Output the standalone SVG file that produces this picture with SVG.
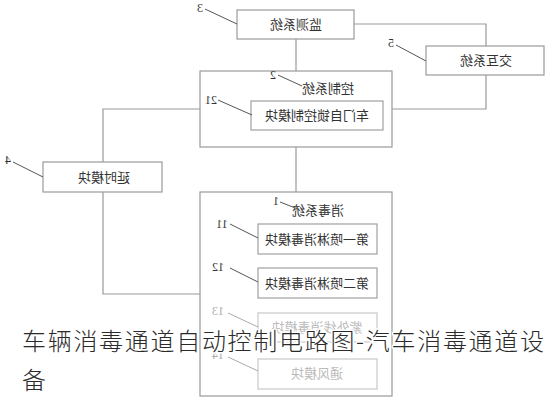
<svg xmlns="http://www.w3.org/2000/svg" width="548" height="400" viewBox="0 0 548 400">
<style>
.box{fill:#fff;stroke:#9a9a9a;stroke-width:1.2}
.inner{fill:#fff;stroke:#a0a0a0;stroke-width:1.2}
.faded{fill:#fff;stroke:#c8c8c8;stroke-width:1.2}
.conn{fill:none;stroke:#999;stroke-width:1.2}
.lead{fill:none;stroke:#555;stroke-width:1}
.leadf{fill:none;stroke:#aaa;stroke-width:1}
.t{font-family:"Noto Sans CJK SC","Liberation Serif",serif;font-size:13px;fill:#333;text-anchor:middle}
.tf{font-family:"Noto Sans CJK SC","Liberation Serif",serif;font-size:13px;fill:#bbb;text-anchor:middle}
.n{font-family:"Liberation Serif",serif;font-size:12px;fill:#333;text-anchor:middle}
.nf{font-family:"Liberation Serif",serif;font-size:12px;fill:#aaa;text-anchor:middle}
.cap{font-family:"Noto Sans CJK SC","Noto Sans",sans-serif;font-size:24px;font-weight:300;fill:#2a2a2a;stroke:#fff;stroke-width:3;paint-order:stroke;stroke-linejoin:round}
</style>
<rect width="548" height="400" fill="#fff"/>
<g id="connectors">
<path class="conn" d="M296,39 V71"/>
<path class="conn" d="M354,24 H486 V46"/>
<path class="conn" d="M486,75 V109 H392"/>
<path class="conn" d="M200,109 H103 V162"/>
<path class="conn" d="M103,192 V294 H200"/>
<path class="conn" d="M296,147 V192"/>
<path class="conn" d="M318,254 V268"/>
<path class="conn" d="M318,298 V313"/>
<path class="conn" d="M318,342 V359"/>
</g>
<g id="n3">
<rect class="box" x="237" y="10" width="117" height="29"/>
<text class="t" transform="scale(-1,1)" x="-296" y="29">监测系统</text>
<path class="lead" d="M205,9 L237,24"/>
<text class="n" transform="scale(-1,1)" x="-200" y="12">3</text>
</g>
<g id="n5">
<rect class="box" x="426" y="46" width="118" height="29"/>
<text class="t" transform="scale(-1,1)" x="-486" y="65">交互系统</text>
<path class="lead" d="M396,45 L426,61"/>
<text class="n" transform="scale(-1,1)" x="-391" y="47">5</text>
</g>
<g id="n2">
<rect class="box" x="200" y="71" width="192" height="76"/>
<text class="t" transform="scale(-1,1)" x="-328" y="93">控制系统</text>
<path class="lead" d="M278,75 L302,86"/>
<text class="n" transform="scale(-1,1)" x="-273" y="79">2</text>
</g>
<g id="n21">
<rect class="inner" x="251" y="101" width="132" height="29"/>
<text class="t" transform="scale(-1,1)" x="-317" y="120">车门自锁控制模块</text>
<path class="lead" d="M218,100 L252,115"/>
<text class="n" transform="scale(-1,1)" x="-211" y="104">21</text>
</g>
<g id="n4">
<rect class="box" x="43" y="162" width="119" height="30"/>
<text class="t" transform="scale(-1,1)" x="-104" y="182">延时模块</text>
<path class="lead" d="M13,162 L43,177"/>
<text class="n" transform="scale(-1,1)" x="-8" y="164">4</text>
</g>
<g id="n1">
<rect class="box" x="200" y="192" width="192" height="204"/>
<text class="t" transform="scale(-1,1)" x="-318" y="215">消毒系统</text>
<path class="lead" d="M280,202 L298,209"/>
<text class="n" transform="scale(-1,1)" x="-276" y="205">1</text>
</g>
<g id="n11">
<rect class="inner" x="258" y="224" width="119" height="30"/>
<text class="t" transform="scale(-1,1)" x="-317" y="244">第一喷淋消毒模块</text>
<path class="lead" d="M230,224 L258,238"/>
<text class="n" transform="scale(-1,1)" x="-222" y="228">11</text>
</g>
<g id="n12">
<rect class="inner" x="258" y="268" width="119" height="30"/>
<text class="t" transform="scale(-1,1)" x="-317" y="288">第二喷淋消毒模块</text>
<path class="lead" d="M230,268 L258,282"/>
<text class="n" transform="scale(-1,1)" x="-218" y="271">12</text>
</g>
<g id="n13">
<rect class="faded" x="258" y="313" width="119" height="29"/>
<text class="tf" transform="scale(-1,1)" x="-317" y="332">紫外线消毒模块</text>
<path class="leadf" d="M228,313 L258,327"/>
<text class="nf" transform="scale(-1,1)" x="-218" y="315">13</text>
</g>
<g id="n14">
<rect class="faded" x="258" y="359" width="119" height="30"/>
<text class="tf" transform="scale(-1,1)" x="-317" y="378">通风模块</text>
<path class="leadf" d="M228,357 L258,371"/>
<text class="nf" transform="scale(-1,1)" x="-218" y="359">14</text>
</g>
<g id="caption">
<text class="cap" x="22" y="350" textLength="522" lengthAdjust="spacing">车辆消毒通道自动控制电路图-汽车消毒通道设</text>
<text class="cap" x="22" y="389">备</text>
</g>
</svg>
